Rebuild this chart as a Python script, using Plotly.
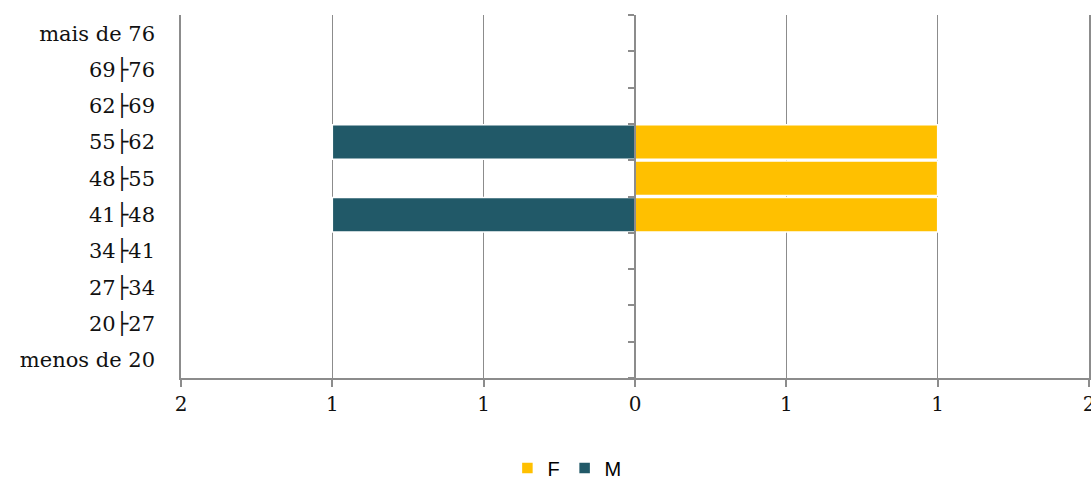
import plotly.graph_objects as go

categories = ["menos de 20", "20├27", "27├34", "34├41", "41├48",
              "48├55", "55├62", "62├69", "69├76", "mais de 76"]
f_values = [0, 0, 0, 0, 1, 1, 1, 0, 0, 0]
m_values = [0, 0, 0, 0, 1, 0, 1, 0, 0, 0]
x_tickvals = [-1.5, -1, -0.5, 0, 0.5, 1, 1.5]
x_ticktext = ["2", "1", "1", "0", "1", "1", "2"]

grid = "#8c8c8c"
serif = "DejaVu Serif"
fig = go.Figure()
fig.add_trace(go.Bar(name="F", y=categories, x=f_values, orientation="h",
                     marker=dict(color="#FFC000", line=dict(color="white", width=1.5))))
fig.add_trace(go.Bar(name="M", y=categories, x=[-v for v in m_values], orientation="h",
                     marker=dict(color="#215968", line=dict(color="white", width=1.5))))
# invisible trace for the centre axis with boundary ticks
fig.add_trace(go.Bar(y=categories, x=[0] * len(categories), orientation="h",
                     yaxis="y2", showlegend=False, hoverinfo="skip",
                     marker=dict(color="rgba(0,0,0,0)")))

fig.update_layout(
    width=1091, height=479,
    margin=dict(l=181, r=2, t=15, b=101, autoexpand=False),
    paper_bgcolor="white", plot_bgcolor="white",
    barmode="relative", bargap=0.05,
    font=dict(family=serif, size=21, color="#111111"),
    xaxis=dict(range=[-1.5, 1.5000001], tickvals=x_tickvals, ticktext=x_ticktext,
               showgrid=True, gridcolor=grid, gridwidth=1,
               zeroline=False, showline=True, linecolor=grid, linewidth=1.5,
               ticks="outside", ticklen=7, tickcolor=grid, tickwidth=1.5,
               automargin=False, ticklabeloverflow="allow",
               tickfont=dict(family=serif, size=20)),
    yaxis=dict(type="category", categoryorder="array", categoryarray=categories,
               showgrid=False, zeroline=False, showline=True, mirror=True,
               linecolor=grid, linewidth=1.5, ticks="",
               ticklabelstandoff=20, automargin=False,
               tickfont=dict(family=serif, size=21)),
    yaxis2=dict(type="category", categoryorder="array", categoryarray=categories,
                overlaying="y", anchor="free", position=0.5, side="left",
                showline=True, linecolor=grid, linewidth=1.5,
                ticks="outside", tickson="boundaries", ticklen=6,
                tickcolor=grid, tickwidth=1.5, showticklabels=False,
                showgrid=False, zeroline=False, automargin=False),
    legend=dict(orientation="h", x=0.425, xanchor="center", y=-0.248, yanchor="middle",
                font=dict(family="Liberation Sans", size=20, color="#000000"),
                traceorder="normal"),
)

fig.write_html("out.html", config={"displayModeBar": False},
               post_script="document.body.style.margin='0';document.body.style.overflow='hidden';")
